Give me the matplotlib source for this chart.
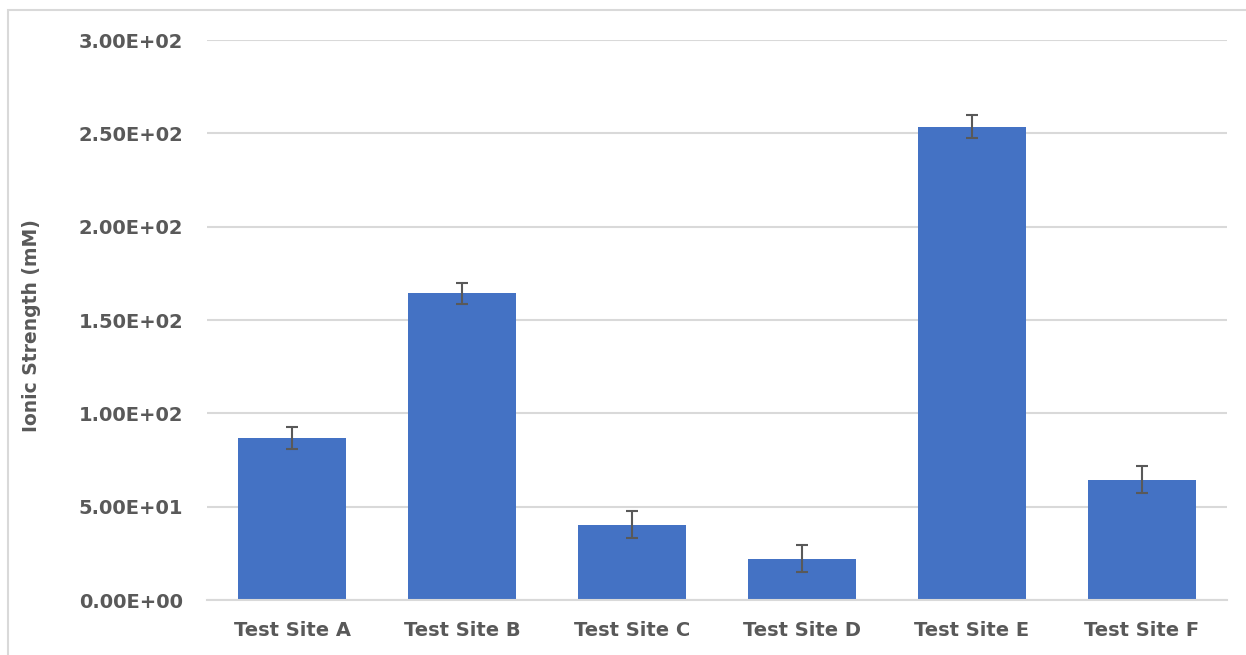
import matplotlib.pyplot as plt
from matplotlib.patches import Rectangle
from matplotlib.ticker import FuncFormatter

# Values
sites = ["Test Site A", "Test Site B", "Test Site C", "Test Site D", "Test Site E", "Test Site F"]
strength = [86.9, 164.2, 40.4, 22.2, 253.6, 64.5]
errors = [6.0, 5.4, 7.3, 7.2, 6.1, 7.3]
y_ticks = [0, 50, 100, 150, 200, 250, 300]

text_color = "#595959"
plt.rcParams['font.family'] = ['DejaVu Sans']

fig = plt.figure(figsize=(12.46, 6.55), dpi=100)
ax = fig.add_axes([207 / 1246, 1 - 600 / 655, 1020 / 1246, 560 / 655])

# chart area border like the Excel frame (runs off the right and bottom edge)
fig.patches.append(Rectangle((8 / 1246, -0.05), 1.1, 1 - 10 / 655 + 0.05,
                             transform=fig.transFigure, fill=False,
                             edgecolor="#d9d9d9", linewidth=1.5))

x = range(len(sites))
ax.bar(x, strength, width=0.64, color="#4472c4", zorder=2)
ax.errorbar(x, strength, yerr=errors, fmt="none", ecolor=text_color,
            elinewidth=1.5, capsize=4.5, capthick=1.5, zorder=3)

ax.set_xlim(-0.5, len(sites) - 0.5)
ax.set_ylim(0, 300)
ax.set_yticks(y_ticks)
ax.yaxis.set_major_formatter(FuncFormatter(lambda v, p: f"{v:.2E}"))
ax.set_xticks(list(x))
ax.set_xticklabels(sites)

ax.grid(axis="y", color="#d9d9d9", linewidth=1.5, zorder=0)
for s in ["top", "right", "left"]:
    ax.spines[s].set_visible(False)
ax.spines["bottom"].set_color("#d9d9d9")
ax.spines["bottom"].set_linewidth(1.5)
ax.tick_params(axis="both", length=0, colors=text_color, labelsize=14)
ax.tick_params(axis="y", pad=17)
ax.tick_params(axis="x", pad=15)
for lbl in ax.get_xticklabels() + ax.get_yticklabels():
    lbl.set_fontweight("bold")

ax.set_ylabel("Ionic Strength (mM)", color=text_color, fontsize=13.5,
              fontweight="bold")
ax.yaxis.set_label_coords(-166 / 1020, 0.49)

fig.savefig("out.png", dpi=100)
